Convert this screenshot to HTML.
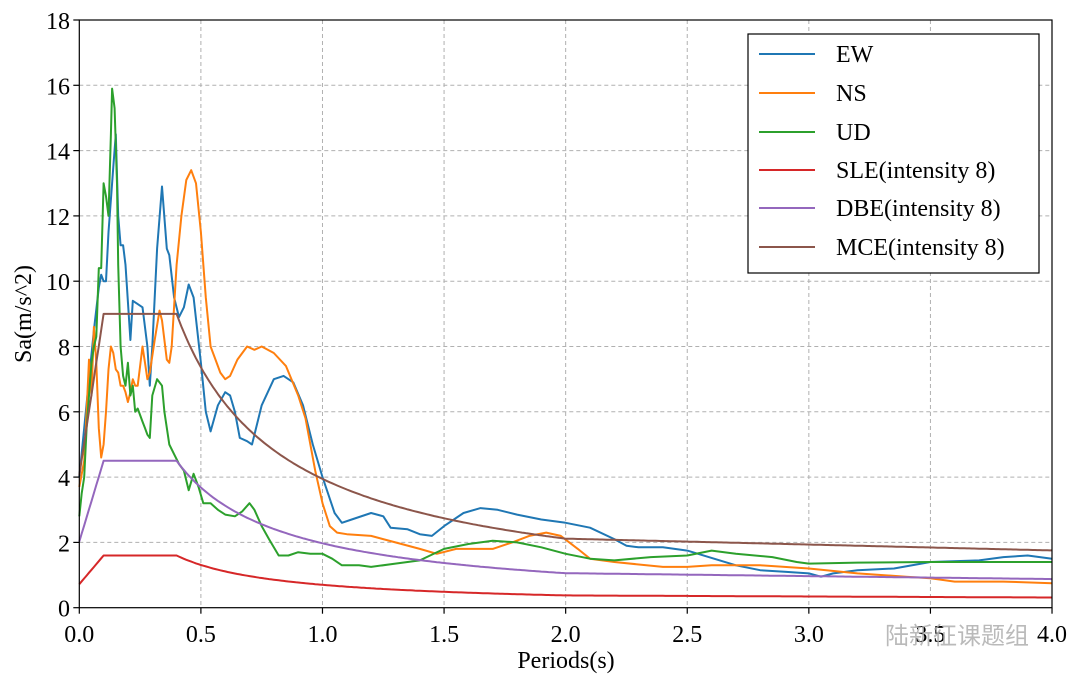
<!DOCTYPE html>
<html><head><meta charset="utf-8"><style>
html,body{margin:0;padding:0;background:#fff;}
svg{display:block;font-family:"Liberation Serif","Noto Serif CJK SC",serif;}
</style></head><body>
<svg id="s" width="1080" height="685" viewBox="0 0 1080 685" xmlns="http://www.w3.org/2000/svg">
<rect width="1080" height="685" fill="#fff"/>
<g id="grid"></g>
<g id="series" fill="none" stroke-width="2" stroke-linejoin="round"></g>
<rect x="79.3" y="20" width="972.7" height="587.7" fill="none" stroke="#000" stroke-width="1.2"/>
<g id="ticks"></g>
<text x="566" y="668" font-size="24" text-anchor="middle">Periods(s)</text>
<text transform="translate(31,314) rotate(-90)" font-size="24" text-anchor="middle">Sa(m/s^2)</text>
<g>
<rect x="748" y="34" width="291" height="239" fill="#fff" stroke="#000" stroke-width="1.2"/>
<g stroke-width="2">
<line x1="759" x2="815" y1="54" y2="54" stroke="#1f77b4"/>
<line x1="759" x2="815" y1="93" y2="93" stroke="#ff7f0e"/>
<line x1="759" x2="815" y1="132" y2="132" stroke="#2ca02c"/>
<line x1="759" x2="815" y1="170" y2="170" stroke="#d62728"/>
<line x1="759" x2="815" y1="208" y2="208" stroke="#9467bd"/>
<line x1="759" x2="815" y1="247" y2="247" stroke="#8c564b"/>
</g>
<g font-size="24">
<text x="836" y="62">EW</text>
<text x="836" y="101">NS</text>
<text x="836" y="140">UD</text>
<text x="836" y="178">SLE(intensity 8)</text>
<text x="836" y="216">DBE(intensity 8)</text>
<text x="836" y="255">MCE(intensity 8)</text>
</g>
</g>
<text x="885" y="644" font-size="24" fill="#aaa" font-family="'Noto Sans CJK SC',sans-serif" opacity="0.8">陆新征课题组</text>
</svg>
<script>
var X0=79.3,XS=243.18,Y0=607.7,YS=32.65,NS="http://www.w3.org/2000/svg";
function px(t){return X0+t*XS}function py(v){return Y0-v*YS}
function el(n,a,p,txt){var e=document.createElementNS(NS,n);for(var k in a)e.setAttribute(k,a[k]);if(txt!==undefined)e.textContent=txt;p.appendChild(e);return e}
var g=document.getElementById('grid'),tk=document.getElementById('ticks'),se=document.getElementById('series');
for(var i=0;i<=8;i++){var x=px(i*0.5);if(i>0&&i<8)el('line',{x1:x,x2:x,y1:20,y2:Y0,stroke:'#b0b0b0','stroke-dasharray':'4,3','stroke-width':1},g);
el('line',{x1:x,x2:x,y1:Y0,y2:Y0+6,stroke:'#000','stroke-width':1.2},tk);
el('text',{x:x,y:642,'font-size':24,'text-anchor':'middle'},tk,(i*0.5).toFixed(1));}
for(var j=0;j<=9;j++){var y=py(j*2);if(j>0&&j<9)el('line',{x1:X0,x2:1052,y1:y,y2:y,stroke:'#b0b0b0','stroke-dasharray':'4,3','stroke-width':1},g);
el('line',{x1:X0-6,x2:X0,y1:y,y2:y,stroke:'#000','stroke-width':1.2},tk);
el('text',{x:70,y:y+9,'font-size':24,'text-anchor':'end'},tk,String(j*2));}
function spec(a){var pts=[];for(var t=0;t<=4.0001;t+=0.01){var v;if(t<0.1)v=a*(0.45+0.55*t/0.1);else if(t<=0.4)v=a;else if(t<=2.0)v=a*Math.pow(0.4/t,0.9);else v=a*(Math.pow(0.2,0.9)-0.02*(t-2.0));pts.push([t,v]);}return pts}
function draw(pts,c){var d='';pts.forEach(function(p,i){d+=(i?'L':'M')+px(p[0]).toFixed(1)+','+py(p[1]).toFixed(1)});el('path',{d:d,stroke:c},se)}
var EW=[[0,4.0],[0.02,5.5],[0.04,7.0],[0.06,8.5],[0.08,9.8],[0.09,10.2],[0.1,10.0],[0.11,10.0],[0.12,11.5],[0.14,13.5],[0.15,14.5],[0.16,12],[0.17,11.1],[0.18,11.1],[0.19,10.5],[0.21,8.2],[0.22,9.4],[0.24,9.3],[0.26,9.2],[0.28,8.0],[0.29,6.8],[0.30,8.0],[0.32,11],[0.34,12.9],[0.36,11.0],[0.37,10.8],[0.39,9.5],[0.41,8.9],[0.43,9.2],[0.45,9.9],[0.47,9.5],[0.50,7.5],[0.52,6.0],[0.54,5.4],[0.57,6.2],[0.60,6.6],[0.62,6.5],[0.64,6.0],[0.66,5.2],[0.69,5.1],[0.71,5.0],[0.75,6.2],[0.80,7.0],[0.84,7.1],[0.88,6.9],[0.92,6.2],[0.96,5.0],[1.0,4.0],[1.05,2.9],[1.08,2.6],[1.12,2.7],[1.20,2.9],[1.25,2.8],[1.28,2.45],[1.35,2.4],[1.40,2.25],[1.45,2.2],[1.50,2.5],[1.58,2.9],[1.65,3.05],[1.72,3.0],[1.80,2.85],[1.90,2.7],[2.0,2.6],[2.1,2.45],[2.2,2.1],[2.25,1.9],[2.3,1.85],[2.4,1.85],[2.5,1.75],[2.7,1.3],[2.8,1.15],[2.9,1.1],[3.0,1.05],[3.05,0.95],[3.1,1.05],[3.2,1.15],[3.35,1.2],[3.5,1.4],[3.7,1.45],[3.8,1.55],[3.9,1.6],[4.0,1.5]];
var NSd=[[0,3.7],[0.02,4.5],[0.03,6.0],[0.04,7.6],[0.05,6.5],[0.06,8.6],[0.07,7.5],[0.08,5.5],[0.09,4.6],[0.10,5.0],[0.11,6.0],[0.12,7.3],[0.13,8.0],[0.14,7.8],[0.15,7.3],[0.16,7.2],[0.17,6.8],[0.18,6.8],[0.19,6.6],[0.2,6.3],[0.21,6.6],[0.22,7.0],[0.23,6.8],[0.24,6.8],[0.25,7.4],[0.26,8.0],[0.27,7.5],[0.28,7.0],[0.29,7.2],[0.31,8.2],[0.33,9.1],[0.34,8.8],[0.36,7.6],[0.37,7.5],[0.38,8.0],[0.40,10.5],[0.42,12.0],[0.44,13.1],[0.46,13.4],[0.48,13.0],[0.50,11.5],[0.52,9.5],[0.54,8.0],[0.56,7.6],[0.58,7.2],[0.60,7.0],[0.62,7.1],[0.65,7.6],[0.69,8.0],[0.72,7.9],[0.75,8.0],[0.80,7.8],[0.85,7.4],[0.90,6.5],[0.93,5.8],[0.97,4.2],[1.0,3.2],[1.03,2.5],[1.06,2.3],[1.1,2.25],[1.2,2.2],[1.3,2.0],[1.4,1.8],[1.47,1.65],[1.55,1.8],[1.7,1.8],[1.78,2.0],[1.85,2.2],[1.92,2.3],[1.98,2.2],[2.05,1.8],[2.1,1.5],[2.2,1.4],[2.4,1.25],[2.5,1.25],[2.6,1.3],[2.8,1.3],[3.0,1.2],[3.2,1.05],[3.4,0.95],[3.5,0.9],[3.6,0.8],[3.8,0.8],[4.0,0.75]];
var UD=[[0,2.8],[0.01,3.5],[0.02,4.0],[0.03,5.5],[0.04,6.5],[0.05,7.5],[0.06,8.0],[0.07,8.3],[0.08,10.4],[0.09,10.4],[0.10,13.0],[0.11,12.6],[0.12,12.0],[0.13,14.5],[0.135,15.9],[0.145,15.3],[0.155,13.0],[0.16,10.5],[0.17,8.0],[0.18,7.1],[0.19,6.8],[0.2,7.5],[0.21,6.5],[0.22,6.8],[0.23,6.0],[0.24,6.1],[0.26,5.7],[0.27,5.5],[0.28,5.3],[0.29,5.2],[0.3,6.5],[0.32,7.0],[0.34,6.8],[0.35,6.0],[0.37,5.0],[0.39,4.7],[0.41,4.4],[0.43,4.2],[0.45,3.6],[0.47,4.1],[0.49,3.7],[0.51,3.2],[0.54,3.2],[0.57,3.0],[0.60,2.85],[0.64,2.8],[0.67,2.95],[0.70,3.2],[0.72,3.0],[0.75,2.5],[0.78,2.1],[0.82,1.6],[0.86,1.6],[0.90,1.7],[0.95,1.65],[1.0,1.65],[1.04,1.5],[1.08,1.3],[1.15,1.3],[1.2,1.25],[1.3,1.35],[1.4,1.45],[1.5,1.8],[1.6,1.95],[1.7,2.05],[1.8,2.0],[1.9,1.85],[2.0,1.65],[2.1,1.5],[2.2,1.45],[2.35,1.55],[2.5,1.6],[2.6,1.75],[2.7,1.65],[2.85,1.55],[2.95,1.4],[3.0,1.35],[3.2,1.38],[3.5,1.4],[4.0,1.4]];
draw(EW,'#1f77b4');draw(NSd,'#ff7f0e');draw(UD,'#2ca02c');
draw(spec(1.6),'#d62728');draw(spec(4.5),'#9467bd');draw(spec(9.0),'#8c564b');
</script>
</body></html>
